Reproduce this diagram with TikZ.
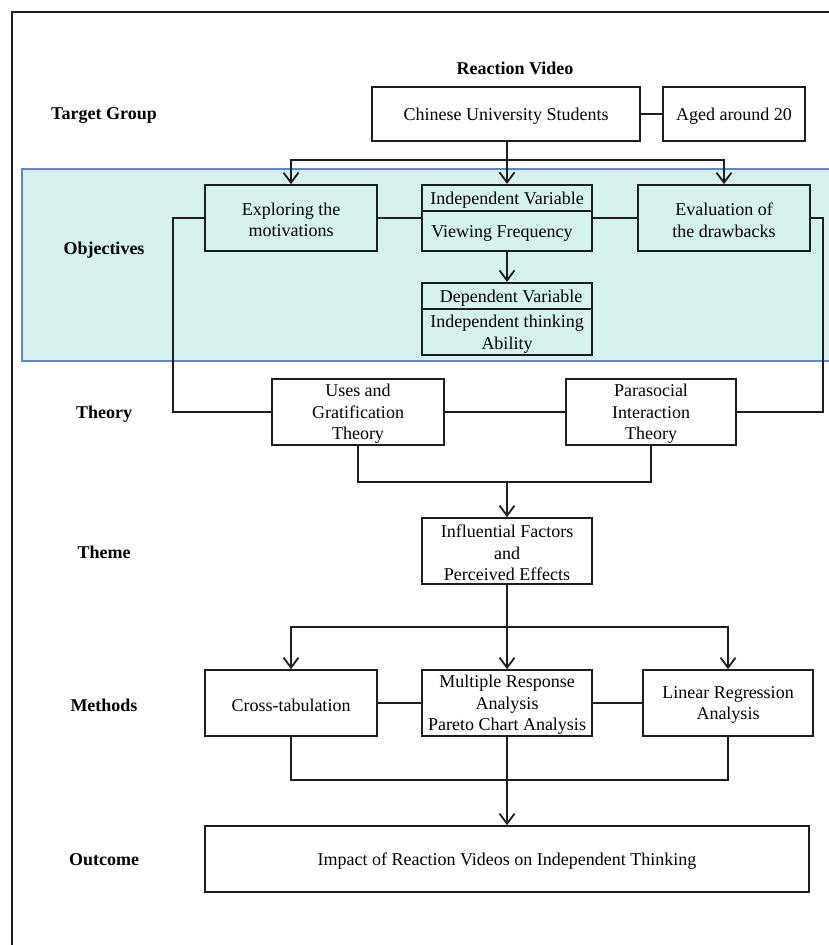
\documentclass[tikz,border=0pt]{standalone}
\usepackage{fontspec}
\setmainfont{Liberation Serif}
\usetikzlibrary{arrows.meta}
\definecolor{tealbg}{RGB}{213,242,239}
\definecolor{bluebd}{RGB}{100,132,200}
\definecolor{ink}{RGB}{30,30,30}
\begin{document}
\begin{tikzpicture}[x=1pt,y=-1pt,
  box/.style={draw=ink, line width=1.7pt, align=center, inner sep=0pt},
  vbox/.style={draw=ink, line width=2.2pt, inner sep=0pt},
  txt/.style={inner sep=0pt, align=center, font=\fontsize{18}{21.5}\selectfont},
  lab/.style={inner sep=0pt, font=\fontsize{18}{21.5}\selectfont\bfseries},
  conn/.style={draw=ink, line width=1.9pt},
  arr/.style={conn, -{Straight Barb[length=10pt,width=15pt,line width=1.8pt]}}
]
\clip (0,0) rectangle (829,945);
\fill[white] (0,0) rectangle (829,945);
\draw[line width=1.3pt, ink] (12,950) -- (12,12) -- (835,12);
\draw[fill=tealbg, draw=bluebd, line width=1.8pt] (22,169) rectangle (840,361);

% left labels
\node[lab] (lTG) at (104,116) {Target Group};
\node[lab] (lOB) at (104,250) {Objectives};
\node[lab] (lTH) at (104,414) {Theory};
\node[lab] (lTM) at (104,552) {Theme};
\node[lab] (lME) at (104,705) {Methods};
\node[lab] (lOU) at (104,860) {Outcome};
\node[lab] (rv) at (515,68) {Reaction Video};

% target group
\node[box, minimum width=268pt, minimum height=54pt] (cus) at (506,114) {};
\node[txt] (cust) at (506,116) {Chinese University Students};
\node[box, minimum width=142pt, minimum height=54pt] (age) at (734,114) {};
\node[txt] (aget) at (734,116) {Aged around 20};

% objectives
\node[box, minimum width=172pt, minimum height=66pt] (expl) at (291,218) {};
\node[txt] (explt) at (291,220) {Exploring the\\motivations};
\node[box, minimum width=172pt, minimum height=66pt] (eval) at (724,218) {};
\node[txt] (evalt) at (724,220) {Evaluation of\\the drawbacks};
\node[vbox, minimum width=170pt, minimum height=66pt] (iv) at (507,218) {};
\draw[line width=1.9pt, ink] ([yshift=-27pt]iv.north west) -- ([yshift=-27pt]iv.north east);
\node[txt] (ivt) at (507,200) {Independent Variable};
\node[txt] (ivb) at (502,233) {Viewing Frequency};
\node[vbox, minimum width=170pt, minimum height=72pt] (dv) at (507,319) {};
\draw[line width=1.9pt, ink] ([yshift=-27pt]dv.north west) -- ([yshift=-27pt]dv.north east);
\node[txt] (dvt) at (511,298) {Dependent Variable};
\node[txt] (dvb) at (507,334) {Independent thinking\\Ability};

% theory
\node[box, minimum width=172pt, minimum height=66pt] (uses) at (358,412) {};
\node[txt] (usest) at (358,414) {Uses and\\Gratification\\Theory};
\node[box, minimum width=170pt, minimum height=66pt] (para) at (651,412) {};
\node[txt] (parat) at (651,414) {Parasocial\\Interaction\\Theory};

% theme
\node[box, minimum width=170pt, minimum height=66pt] (inf) at (507,551) {};
\node[txt] (inft) at (507,553) {Influential Factors\\and\\Perceived Effects};

% methods
\node[box, minimum width=172pt, minimum height=66pt] (ct) at (291,703) {};
\node[txt] (ctt) at (291,705) {Cross-tabulation};
\node[box, minimum width=170pt, minimum height=66pt] (mra) at (507,703) {};
\node[txt] (mrat) at (507,705) {Multiple Response\\Analysis\\Pareto Chart Analysis};
\node[box, minimum width=170pt, minimum height=66pt] (lr) at (728,703) {};
\node[txt] (lrt) at (728,705) {Linear Regression\\Analysis};

% outcome
\node[box, minimum width=604pt, minimum height=66pt] (out) at (507,859) {};
\node[txt] (outt) at (507,861) {Impact of Reaction Videos on Independent Thinking};

% connectors
\draw[conn] (cus.east) -- (age.west);
\coordinate (f1) at (507,160);
\draw[arr] (cus.south -| iv.north) -- (iv.north);
\draw[arr] (f1) -| (expl.north);
\draw[arr] (f1) -| (eval.north);
\draw[conn] (expl.east) -- (expl.east -| iv.west);
\draw[conn] (iv.east |- eval.west) -- (eval.west);
\draw[arr] (iv.south) -- (dv.north);
\draw[conn] (expl.west) -- ++(-31,0) |- (uses.west);
\draw[conn] (eval.east) -- ++(12,0) |- (para.east);
\draw[conn] (uses.east) -- (para.west);
\coordinate (m1) at (507,482);
\draw[conn] (uses.south) |- (m1) -| (para.south);
\draw[arr] (m1) -- (inf.north);
\coordinate (m2) at (507,627);
\draw[arr] (inf.south) -- (mra.north);
\draw[arr] (m2) -| (ct.north);
\draw[arr] (m2) -| (lr.north);
\draw[conn] (ct.east) -- (mra.west);
\draw[conn] (mra.east) -- (lr.west);
\coordinate (m3) at (507,780);
\draw[conn] (ct.south) |- (m3) -| (lr.south);
\draw[arr] (mra.south) -- (out.north);
\end{tikzpicture}
\end{document}
